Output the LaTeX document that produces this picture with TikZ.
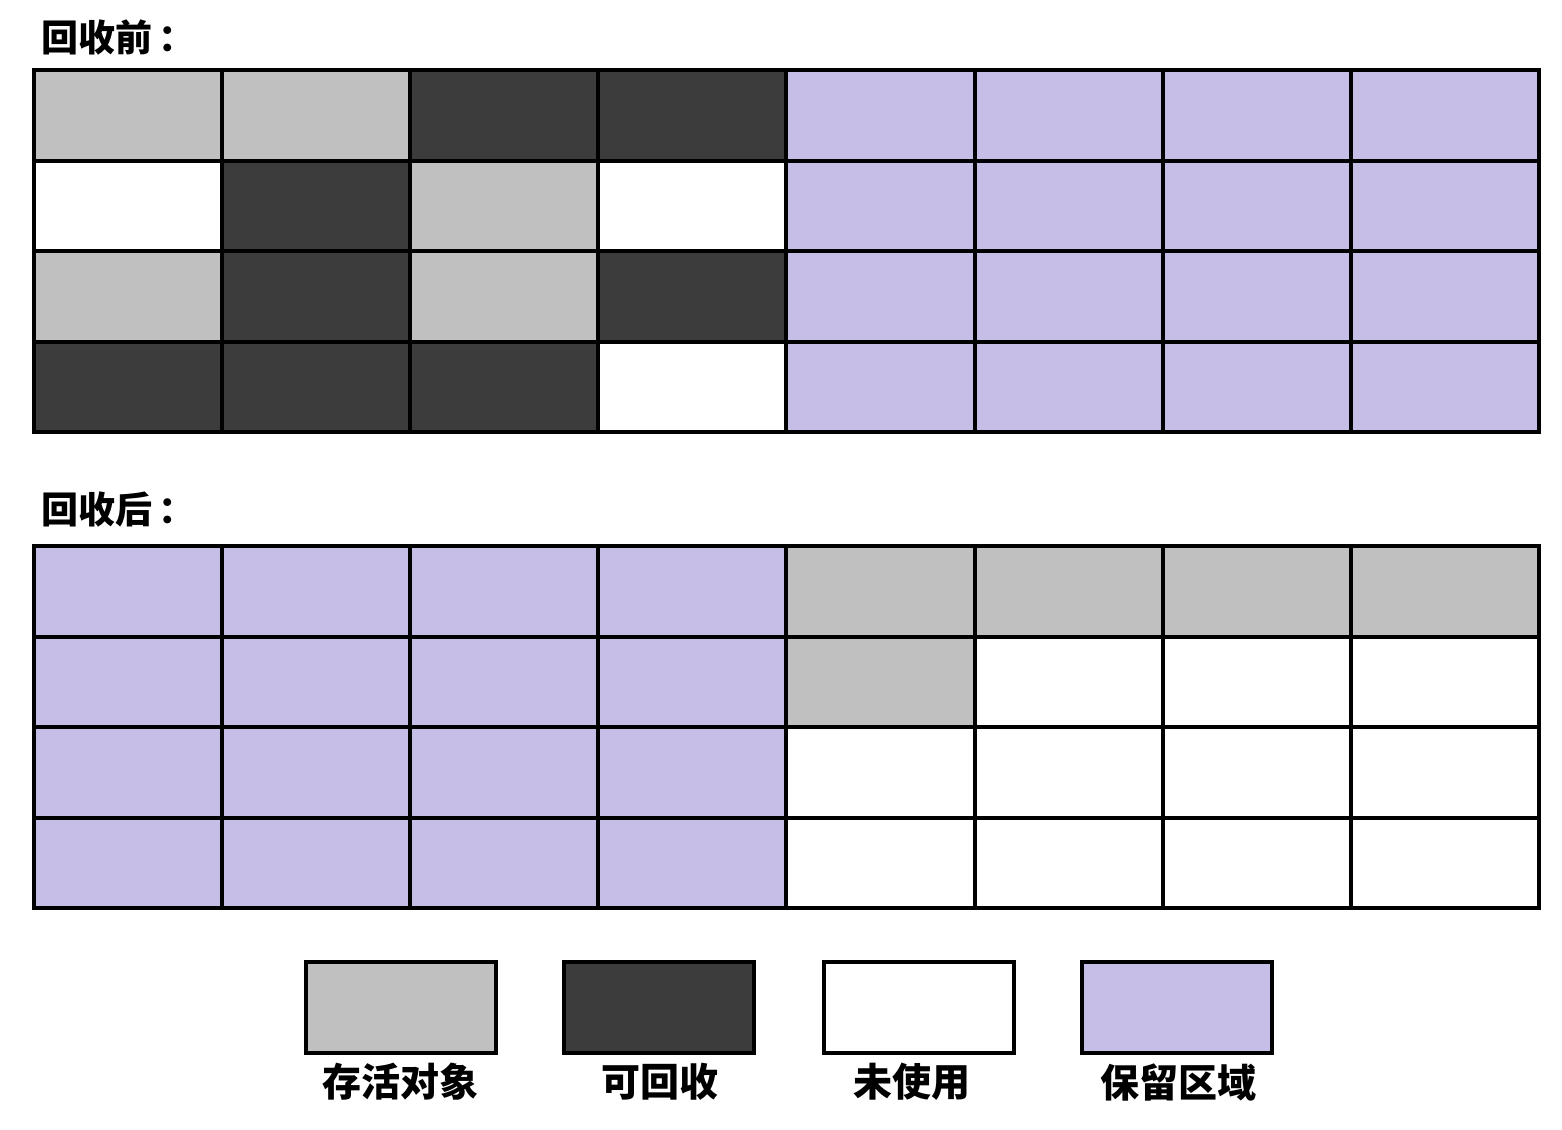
\documentclass[tikz,border=0pt]{standalone}
\usepackage{fontspec}
\newfontfamily\cjk{Noto Sans CJK SC}
\definecolor{live}{HTML}{C0C0C0}
\definecolor{dead}{HTML}{3C3C3C}
\definecolor{free}{HTML}{FFFFFF}
\definecolor{resv}{HTML}{C6BEE6}
\begin{document}
\begin{tikzpicture}[x=1pt,y=-1pt]
\tikzset{
  cell/.style={draw=black,line width=4pt,minimum width=188.1pt,minimum height=90.5pt,inner sep=0pt,outer sep=0pt,anchor=north west},
  legbox/.style={draw=black,line width=4pt,minimum width=190pt,minimum height=91pt,inner sep=0pt,outer sep=0pt},
  title/.style={font=\cjk\bfseries\fontsize{37}{40}\selectfont,anchor=west,inner sep=0pt},
  leglabel/.style={font=\cjk\bfseries\fontsize{39}{42}\selectfont,inner sep=0pt}
}
\useasboundingbox (0,0) rectangle (1562,1129);
\node[title] (t1) at (41,37) {回收前\,：};
\node[title] (t2) at (41,510) {回收后\,：};
% before
\foreach \r/\row in {1/{live,live,dead,dead,resv,resv,resv,resv},
                     2/{free,dead,live,free,resv,resv,resv,resv},
                     3/{live,dead,live,dead,resv,resv,resv,resv},
                     4/{dead,dead,dead,free,resv,resv,resv,resv}}{
  \foreach \k [count=\c] in \row {
    \node[cell,fill=\k] (a-\r-\c) at ({34+(\c-1)*188.1},{70+(\r-1)*90.5}) {};
  }
}
% after
\foreach \r/\row in {1/{resv,resv,resv,resv,live,live,live,live},
                     2/{resv,resv,resv,resv,live,free,free,free},
                     3/{resv,resv,resv,resv,free,free,free,free},
                     4/{resv,resv,resv,resv,free,free,free,free}}{
  \foreach \k [count=\c] in \row {
    \node[cell,fill=\k] (b-\r-\c) at ({34+(\c-1)*188.1},{546+(\r-1)*90.5}) {};
  }
}
% legend
\node[legbox,fill=live] (l1) at (401,1007.5) {};
\node[legbox,fill=dead] (l2) at (659,1007.5) {};
\node[legbox,fill=free] (l3) at (919,1007.5) {};
\node[legbox,fill=resv] (l4) at (1177,1007.5) {};
\node[leglabel] (n1) at (400,1082) {存活对象};
\node[leglabel] (n2) at (660,1082) {可回收};
\node[leglabel] (n3) at (912,1082) {未使用};
\node[leglabel] (n4) at (1178,1082) {保留区域};
\end{tikzpicture}
\end{document}
